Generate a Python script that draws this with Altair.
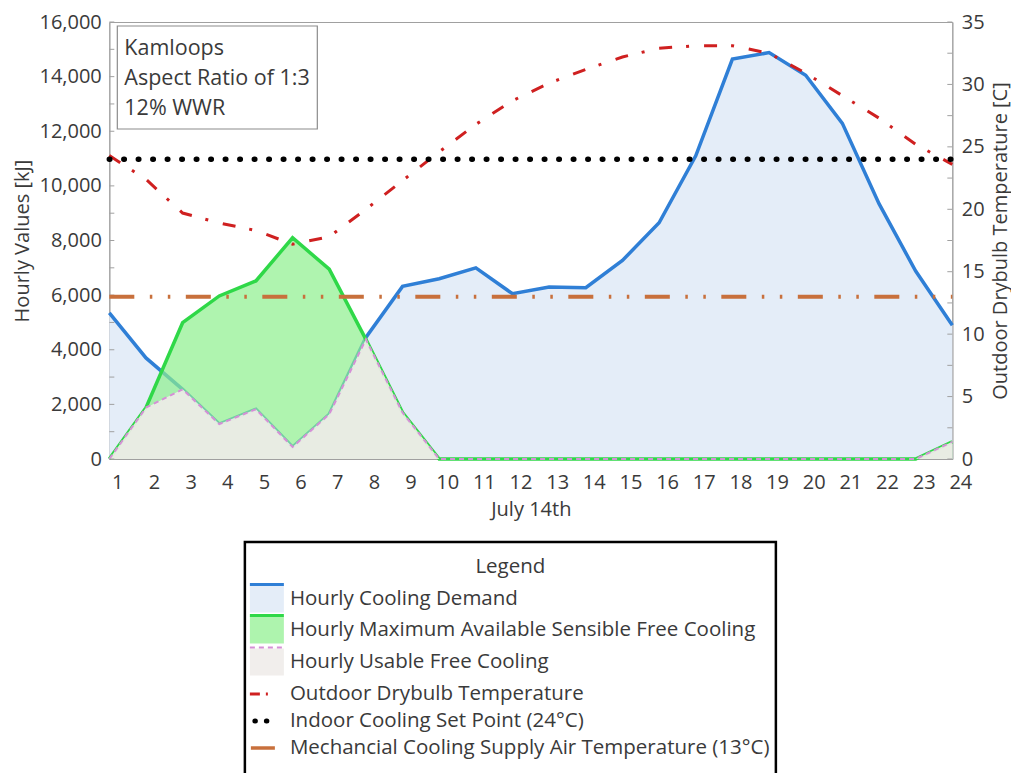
import altair as alt
import pandas as pd

# Hour of day on July 14th
hours = list(range(1, 25))

# Hourly energy values [kJ]
cooling_demand = [5350, 3700, 2550, 1280, 1820, 440, 1640, 4450, 6320, 6600, 7000, 6050,
                  6300, 6270, 7270, 8650, 11100, 14640, 14880, 14050, 12290, 9350, 6880, 4900]
max_free_cooling = [0, 1880, 4990, 5970, 6520, 8100, 6950, 4380, 1700, 0, 0, 0,
                    0, 0, 0, 0, 0, 0, 0, 0, 0, 0, 0, 630]
usable_free_cooling = [0, 1880, 2550, 1280, 1820, 440, 1640, 4380, 1700, 0, 0, 0,
                       0, 0, 0, 0, 0, 0, 0, 0, 0, 0, 0, 630]

# Temperatures [C]
outdoor_temp = [24.3, 22.4, 19.7, 18.9, 18.3, 17.2, 17.8, 20.0, 22.3, 24.6, 26.8, 28.7,
                30.1, 31.2, 32.2, 32.9, 33.1, 33.1, 32.5, 30.9, 29.1, 27.3, 25.2, 23.6]
indoor_setpoint = 24
supply_air_temp = 13

kj_ticks = list(range(0, 16001, 2000))
kj_minor = list(range(0, 16001, 1000))
temp_ticks = list(range(0, 36, 5))
temp_minor = [i * 2.5 for i in range(15)]

note_lines = ["Kamloops", "Aspect Ratio of 1:3", "12% WWR"]
legend_labels = [
    "Hourly Cooling Demand",
    "Hourly Maximum Available Sensible Free Cooling",
    "Hourly Usable Free Cooling",
    "Outdoor Drybulb Temperature",
    "Indoor Cooling Set Point (24°C)",
    "Mechancial Cooling Supply Air Temperature (13°C)",
]

FONT = "Open Sans"
FS = 20
TEXT = "#3a3a3a"
FRAME = "#a0a0a0"
W, H = 843, 437
LW, LH = 531, 240
LEGEND_SHIFT = 98  # extra right-hand room so the centred legend box sits under the plot

BLUE = "#2f7fd6"
BLUE_FILL = "#e4edf8"
GREEN = "#2fd848"
GREEN_FILL = "#8df08d"
PINK = "#d58fd6"
GREY_FILL = "#eeece7"
RED = "#cf2020"
ORANGE = "#c8703c"

df = pd.DataFrame({
    "hour": hours,
    "demand": cooling_demand,
    "available": max_free_cooling,
    "usable": usable_free_cooling,
    "temp": outdoor_temp,
    "setpoint": [indoor_setpoint] * len(hours),
    "supply": [supply_air_temp] * len(hours),
})

x_enc = alt.X(
    "hour:Q",
    scale=alt.Scale(domain=[1, 24], nice=False, zero=False),
    axis=alt.Axis(values=hours, title="July 14th", labelOffset=8, labelPadding=13,
                  labelFlush=False, titlePadding=7, tickSize=0),
)

kj_scale = alt.Scale(domain=[0, 16000], nice=False)
kj_axis = alt.Axis(values=kj_ticks, format=",.0f", title="Hourly Values [kJ]",
                   tickSize=0, labelPadding=8, titlePadding=6)


def kj(field):
    return alt.Y(f"{field}:Q", scale=kj_scale, axis=None)


base = alt.Chart(df)

demand_area = base.mark_area(color=BLUE_FILL).encode(
    x=x_enc, y=alt.Y("demand:Q", scale=kj_scale, axis=kj_axis))
demand_line = base.mark_line(color=BLUE, strokeWidth=3.5).encode(x=x_enc, y=kj("demand"))
avail_area = base.mark_area(color=GREEN_FILL, opacity=0.7).encode(x=x_enc, y=kj("available"))
avail_line = base.mark_line(color=GREEN, strokeWidth=3.5).encode(x=x_enc, y=kj("available"))
usable_area = base.mark_area(color=GREY_FILL, opacity=0.92).encode(x=x_enc, y=kj("usable"))
usable_line = base.mark_line(color=PINK, strokeWidth=2, strokeDash=[5, 4]).encode(
    x=x_enc, y=kj("usable"))

# small inward ticks on the left axis
kj_tick_marks = alt.Chart(pd.DataFrame({"v": kj_minor})).mark_rule(
    color=FRAME, strokeWidth=1).encode(
    x=alt.value(0), x2=alt.value(5), y=alt.Y("v:Q", scale=kj_scale, axis=None))

temp_scale = alt.Scale(domain=[0, 35], nice=False)
temp_axis = alt.Axis(orient="right", values=temp_ticks, title="Outdoor Drybulb Temperature [C]",
                     titleAngle=270, titleBaseline="top", titlePadding=6,
                     tickSize=0, labelPadding=9)


def tc(field):
    return alt.Y(f"{field}:Q", scale=temp_scale, axis=None)


temp_line = base.mark_line(color=RED, strokeWidth=3, strokeDash=[13, 14, 3, 15]).encode(
    x=x_enc, y=alt.Y("temp:Q", scale=temp_scale, axis=temp_axis))
setpoint_line = base.mark_line(color="black", strokeWidth=5.5, strokeCap="round",
                               strokeDash=[0.5, 14]).encode(x=x_enc, y=tc("setpoint"))
supply_line = base.mark_line(color=ORANGE, strokeWidth=4,
                             strokeDash=[25, 15.5, 2.5, 15.5, 2.5, 15.5]).encode(
    x=x_enc, y=tc("supply"))
temp_tick_marks = alt.Chart(pd.DataFrame({"v": temp_minor})).mark_rule(
    color=FRAME, strokeWidth=1).encode(
    x=alt.value(W - 5), x2=alt.value(W), y=alt.Y("v:Q", scale=temp_scale, axis=None))

# location / building note in the upper left corner
note_box = alt.Chart(pd.DataFrame({"n": [0]})).mark_rect(
    fill="white", stroke="#8c8c8c", strokeWidth=1.2).encode(
    x=alt.value(8), x2=alt.value(208), y=alt.value(4), y2=alt.value(107))
note_text = alt.Chart(pd.DataFrame({"line": note_lines, "i": [0, 1, 2]})).mark_text(
    align="left", baseline="middle", font=FONT, fontSize=21.5, color=TEXT).encode(
    x=alt.value(15),
    y=alt.Y("i:Q", scale=alt.Scale(domain=[0, 2], range=[27, 87]), axis=None),
    text="line:N")

main = alt.layer(
    demand_area, demand_line, avail_area, avail_line, usable_area, usable_line,
    kj_tick_marks, temp_line, setpoint_line, supply_line, temp_tick_marks,
    note_box, note_text,
).resolve_scale(y="independent").properties(
    width=W, height=H, view=alt.ViewBackground(stroke=FRAME, strokeWidth=1))

# ---- legend panel ----
leg = pd.DataFrame({"label": legend_labels, "row": list(range(6))})
row_scale = alt.Scale(domain=[0, 1, 2, 3, 4, 5], range=[57, 88, 120, 152, 179, 206])
ly = alt.Y("row:Q", scale=row_scale, axis=None)
lbase = alt.Chart(leg)


def row(r):
    return lbase.transform_filter(alt.datum.row == r)


def swatch(r, fill, line, dash=None):
    top_kw = {"strokeDash": dash, "strokeWidth": 2} if dash else {"strokeWidth": 3}
    return [
        row(r).mark_rule(strokeWidth=27, color=fill).encode(
            x=alt.value(5), x2=alt.value(39), y=ly),
        row(r).mark_rule(yOffset=-14.5, color=line, **top_kw).encode(
            x=alt.value(5), x2=alt.value(39), y=ly),
    ]


symbols = (
    swatch(0, BLUE_FILL, BLUE)
    + swatch(1, "#aef4ae", GREEN)
    + swatch(2, "#f1eeec", PINK, [5, 4])
    + [
        row(3).mark_rule(strokeWidth=3, color=RED, strokeDash=[10, 6, 2, 20]).encode(
            x=alt.value(5), x2=alt.value(27), y=ly),
        row(4).mark_rule(strokeWidth=5, color="black", strokeCap="round",
                         strokeDash=[0.5, 11]).encode(x=alt.value(10), x2=alt.value(22), y=ly),
        row(5).mark_rule(strokeWidth=3.5, color=ORANGE).encode(
            x=alt.value(6), x2=alt.value(30), y=ly),
    ]
)
labels = lbase.mark_text(align="left", baseline="middle", font=FONT, fontSize=20.5,
                         color=TEXT).encode(x=alt.value(45), y=ly, text="label:N")
legend_title = alt.Chart(pd.DataFrame({"t": ["Legend"]})).mark_text(
    align="center", baseline="middle", font=FONT, fontSize=20.5, color=TEXT).encode(
    x=alt.value(LW / 2), y=alt.value(25), text="t:N")
# transparent spacer that widens the panel's bounds to the right
spacer = alt.Chart(pd.DataFrame({"n": [0]})).mark_rule(strokeOpacity=0).encode(
    x=alt.value(LW), x2=alt.value(LW + LEGEND_SHIFT), y=alt.value(1))

legend = alt.layer(*symbols, labels, legend_title, spacer).properties(
    width=LW, height=LH, view=alt.ViewBackground(stroke="black", strokeWidth=2.5))

chart = alt.vconcat(main, legend, spacing=20, center=True).properties(
    padding={"left": 12, "top": 11, "right": 0, "bottom": 0}
).configure_axis(
    labelFont=FONT, titleFont=FONT, labelFontSize=FS, titleFontSize=FS,
    labelColor=TEXT, titleColor=TEXT, titleFontWeight="normal",
    domainColor=FRAME, grid=False,
).configure_view(stroke=None)

chart.save("out.html", embed_options={"renderer": "svg", "actions": False})
